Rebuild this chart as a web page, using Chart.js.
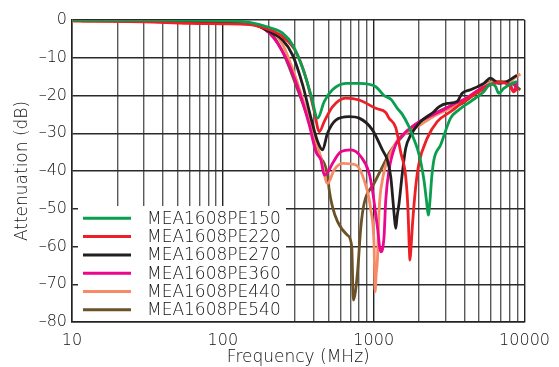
<!DOCTYPE html>
<html><head><meta charset="utf-8">
<script src="https://cdn.jsdelivr.net/npm/chart.js@4.4.0/dist/chart.umd.min.js"></script>
<style>html,body{margin:0;padding:0;background:#fff;}canvas{display:block;}</style>
</head><body>
<canvas id="c" width="559" height="367" style="width:559px;height:367px"></canvas>
<script>
const seriesNames = ['MEA1608PE150','MEA1608PE220','MEA1608PE270','MEA1608PE360','MEA1608PE440','MEA1608PE540'];
const seriesColors = ['#0a9e4f','#ee1f26','#231f20','#ec068d','#f68b65','#6c5229'];

const green_f = [10,20,50,100,150,204,249,290,338,384,425,470,533,654,801,1032,1171,1300,1434,1548,1700,1803,1945,2048,2153,2240,2299,2360,2420,2506,2776,3233,3667,4384,5367,5943,6400,6743,7276,8255,8907];
const green_db = [0,0,-0.1,-0.2,-0.6,-2,-3.5,-6.6,-12.8,-19.9,-26,-21.6,-18.5,-16.8,-16.8,-17.7,-20,-21,-23.4,-25,-28,-30.5,-34,-37.5,-42.4,-48,-51.7,-48,-42,-37.1,-33.1,-26,-23.8,-21.6,-19,-17,-17.5,-19.4,-18.1,-16.8,-16.3];

const red_f = [10,30,60,100,150,204,249,305,356,404,436,470,533,654,801,1032,1202,1264,1400,1510,1630,1688,1720,1740,1770,1803,1898,1995,2265,2637,3233,4000,5000,6000,7000,8000,8500,9000];
const red_db = [-0.2,-0.5,-0.9,-1,-1.2,-2.6,-4.4,-8.4,-15.4,-24.3,-29.6,-26.9,-23,-20.7,-21.2,-23.4,-24.5,-26,-28.5,-35,-41.5,-50.3,-60,-63.6,-60,-54.8,-44.2,-38,-31.3,-26.9,-24.3,-21.5,-19,-17,-16.5,-17.5,-19,-18];

const black_f = [10,50,100,150,204,249,290,338,384,425,458,494,561,687,801,980,1142,1232,1297,1329,1370,1400,1430,1472,1548,1630,1759,2048,2506,2705,3070,3574,3857,4384,5367,5943,6743,7649,8907];
const black_db = [0,-0.3,-0.5,-0.8,-3.1,-5.3,-9.3,-17.2,-26,-32.2,-34.4,-30,-26.5,-25.6,-26,-29.1,-34.4,-37.1,-41.5,-45.9,-52,-55.2,-52,-48.6,-40.6,-34,-30.5,-26.9,-24.3,-23,-22.1,-21.6,-19.4,-18.5,-16.8,-15.4,-16.8,-16.3,-14.6];

const magenta_f = [10,50,100,150,204,262,321,374,414,447,470,507,533,606,706,822,933,980,1058,1114,1171,1202,1264,1400,1600,2000,2500,3000,3500,4000,5000,6000,7000,8000,8472,8907];
const magenta_db = [0,-0.2,-0.5,-1,-3.5,-10.1,-19,-27.8,-34.9,-37.1,-41.1,-39.7,-38,-34.9,-34.4,-36.2,-40.6,-45,-54.8,-61.4,-57.4,-47.7,-39.7,-33,-30,-27,-25,-23.5,-22,-21,-18.5,-17,-16.5,-17,-19,-16.5];

const salmon_f = [10,30,60,100,150,204,249,290,321,384,447,494,547,621,761,864,957,1006,1021,1040,1058,1086,1142,1300,1500,1714,2000,2500,3000,3500,4000,5000,6000,7000,8000,8500,9376];
const salmon_db = [-0.3,-0.3,-0.5,-0.6,-1,-2.4,-6.5,-13,-18.1,-27.8,-36.6,-43.3,-39.7,-38,-38.4,-42.4,-50.3,-60,-72,-67,-63.6,-50.3,-42.4,-35,-31,-29.5,-28,-25.5,-24,-22.5,-21,-18.5,-16.5,-16.5,-16.5,-15.5,-14.3];

const brown_f = [11.6,30,60,100,150,204,249,305,374,447,470,494,507,533,576,670,715,733,780,822,864,1006,1202,1264,1472,1803,2324,3150,3857,4730,5943,7089,8255,9376];
const brown_db = [-0.3,-0.3,-0.4,-0.5,-0.9,-3.1,-8.4,-17.2,-26.9,-36.6,-38,-41,-45,-49.5,-53.4,-57,-60,-74.2,-67.1,-54.8,-48.6,-43.3,-37.1,-35.3,-31.8,-28.3,-25.6,-23,-22.1,-19.4,-16.3,-16.3,-16.8,-18.5];

const xGridValues = [10,20,30,40,50,60,70,80,90,100,200,300,400,500,600,700,800,900,1000,2000,3000,4000,5000,6000,7000,8000,9000,10000];
const xTickLabels = {10:'10',100:'100',1000:'1000',10000:'10000'};
const yTickValues = [0,-10,-20,-30,-40,-50,-60,-70,-80];
const yTickLabels = ['0','–10','–20','–30','–40','–50','–60','–70','–80'];

const allF = [green_f, red_f, black_f, magenta_f, salmon_f, brown_f];
const allDb = [green_db, red_db, black_db, magenta_db, salmon_db, brown_db];

const FONT = '"DejaVu Sans", "Liberation Sans", sans-serif';
const WEIGHT = '200';
const TEXT = '#111111';

const datasets = seriesNames.map((name, k) => ({
  label: name,
  data: allF[k].map((f, i) => ({x: f, y: allDb[k][i]})),
  borderColor: seriesColors[k],
  backgroundColor: seriesColors[k],
  borderWidth: 2.8,
  pointRadius: 0,
  fill: false,
  cubicInterpolationMode: 'monotone'
}));

const insideLegend = {
  id: 'insideLegend',
  beforeDatasetsDraw(chart) {
    const ctx = chart.ctx, a = chart.chartArea;
    ctx.save();
    ctx.fillStyle = '#ffffff';
    ctx.fillRect(a.left + 6, 206, 208, a.bottom - 206 - 1);
    ctx.font = WEIGHT + ' 17px ' + FONT;
    ctx.textBaseline = 'middle';
    ctx.textAlign = 'left';
    chart.data.datasets.forEach((ds, i) => {
      const y = 218.3 + 18.3 * i;
      ctx.strokeStyle = ds.borderColor;
      ctx.lineWidth = 3;
      ctx.beginPath();
      ctx.moveTo(a.left + 11, y);
      ctx.lineTo(a.left + 59, y);
      ctx.stroke();
      ctx.fillStyle = TEXT;
      ctx.fillText(ds.label, a.left + 75, y + 1);
    });
    ctx.restore();
  }
};

new Chart(document.getElementById('c'), {
  type: 'line',
  data: { datasets },
  plugins: [insideLegend],
  options: {
    responsive: false,
    animation: false,
    devicePixelRatio: 1,
    layout: { padding: { left: 0, right: 33, top: 20, bottom: 0 } },
    plugins: { legend: { display: false }, tooltip: { enabled: false } },
    scales: {
      x: {
        type: 'logarithmic', min: 10, max: 10000,
        afterBuildTicks(s) { s.ticks = xGridValues.map(v => ({ value: v })); },
        afterFit(s) { s.height = 45; },
        ticks: {
          autoSkip: false, maxRotation: 0, padding: 9,
          callback: (v) => xTickLabels[v] || '',
          font: { family: FONT, size: 16, weight: WEIGHT }, color: TEXT
        },
        grid: {
          drawTicks: false, lineWidth: 1.4,
          color: (c) => (c.tick && [10,100,1000,10000].includes(c.tick.value)) ? '#222' : '#5a5a5a'
        },
        border: { display: true, color: '#222', width: 1.5 },
        title: { display: true, text: 'Frequency (MHz)', font: { family: FONT, size: 17, weight: WEIGHT }, color: TEXT, padding: { top: 0, bottom: -1 } }
      },
      y: {
        min: -80, max: 0,
        afterBuildTicks(s) { s.ticks = yTickValues.map(v => ({ value: v })); },
        afterFit(s) { s.width = 72; },
        ticks: {
          padding: 5,
          callback: (v) => yTickLabels[yTickValues.indexOf(v)],
          font: { family: FONT, size: 16, weight: WEIGHT }, color: TEXT
        },
        grid: { drawTicks: false, lineWidth: 1.4, color: '#2a2a2a' },
        border: { display: true, color: '#222', width: 1.5 },
        title: { display: true, text: 'Attenuation (dB)', font: { family: FONT, size: 17, weight: WEIGHT }, color: TEXT, padding: { top: 12, bottom: 0 } }
      }
    }
  }
});
</script>
</body></html>
